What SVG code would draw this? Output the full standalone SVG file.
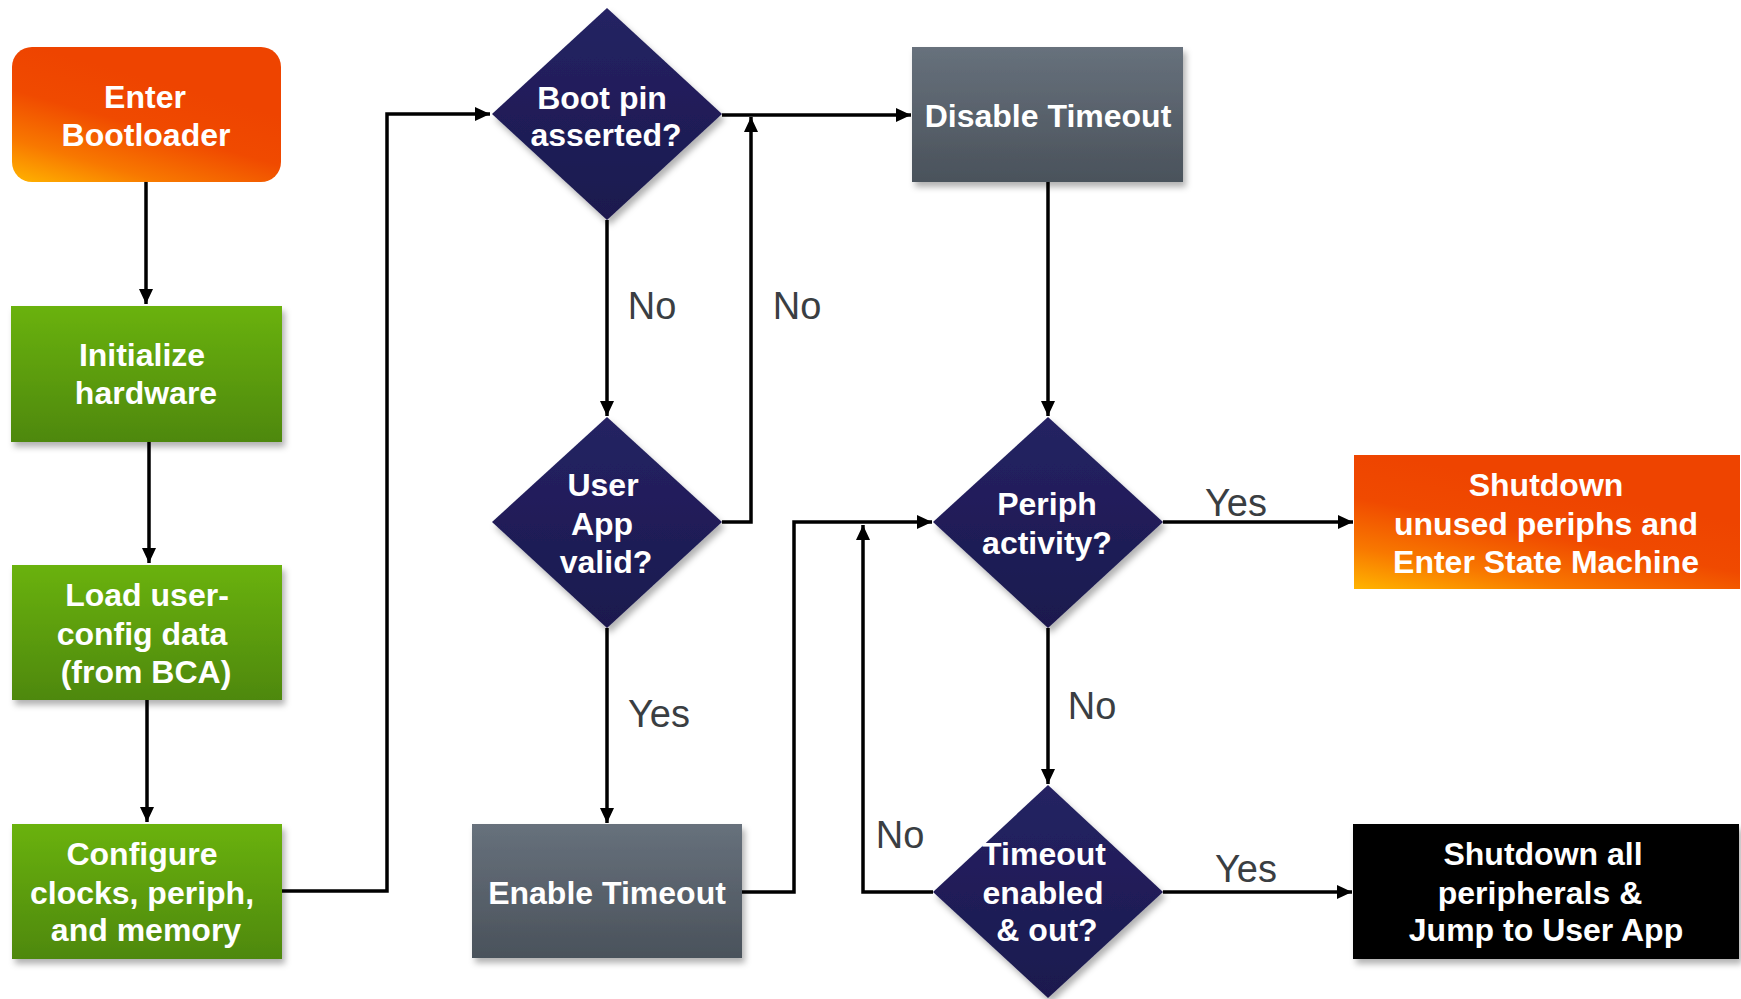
<svg xmlns="http://www.w3.org/2000/svg" width="1741" height="999" viewBox="0 0 1741 999">
<defs>
<style>
.t{font-family:"Liberation Sans",Arial,sans-serif;font-weight:bold;font-size:32px;fill:#fff;text-anchor:middle}
.l{font-family:"Liberation Sans",Arial,sans-serif;font-size:38px;fill:#3a3e42;text-anchor:middle}
.c{fill:none;stroke:#000;stroke-width:3.5}
</style>
<linearGradient id="gOr" x1="0" y1="1" x2="0.45" y2="0.2">
<stop offset="0" stop-color="#FFB400"/>
<stop offset="0.3" stop-color="#F87800"/>
<stop offset="0.65" stop-color="#F04A00"/>
<stop offset="1" stop-color="#EE4400"/>
</linearGradient>
<linearGradient id="gGr" x1="0" y1="0" x2="0" y2="1">
<stop offset="0" stop-color="#6AB20C"/>
<stop offset="1" stop-color="#4E8808"/>
</linearGradient>
<linearGradient id="gGy" x1="0" y1="0" x2="0" y2="1">
<stop offset="0" stop-color="#67717C"/>
<stop offset="1" stop-color="#4A525B"/>
</linearGradient>
<linearGradient id="gDm" x1="0" y1="0" x2="0" y2="1">
<stop offset="0" stop-color="#252263"/>
<stop offset="1" stop-color="#1B194E"/>
</linearGradient>
<filter id="sh" x="-10%" y="-10%" width="125%" height="130%">
<feDropShadow dx="3" dy="5" stdDeviation="3" flood-color="#000" flood-opacity="0.3"/>
</filter>
<marker id="ar" markerUnits="userSpaceOnUse" markerWidth="16" markerHeight="14" refX="15" refY="7" orient="auto">
<path d="M0,0 L15,7 L0,14 z" fill="#000"/>
</marker>
</defs>
<rect width="1741" height="999" fill="#fff"/>
<g id="connectors">
<path class="c" d="M146,182 V304" marker-end="url(#ar)"/>
<path class="c" d="M149,442 V563" marker-end="url(#ar)"/>
<path class="c" d="M147,700 V822" marker-end="url(#ar)"/>
<path class="c" d="M282,891 H387 V114 H490" marker-end="url(#ar)"/>
<path class="c" d="M722,115 H911" marker-end="url(#ar)"/>
<path class="c" d="M607,220 V416" marker-end="url(#ar)"/>
<path class="c" d="M722,522 H751 V117" marker-end="url(#ar)"/>
<path class="c" d="M607,628 V823" marker-end="url(#ar)"/>
<path class="c" d="M742,892 H794 V522 H932" marker-end="url(#ar)"/>
<path class="c" d="M1048,182 V416" marker-end="url(#ar)"/>
<path class="c" d="M1163,522 H1353" marker-end="url(#ar)"/>
<path class="c" d="M1048,628 V784" marker-end="url(#ar)"/>
<path class="c" d="M1163,892 H1352" marker-end="url(#ar)"/>
<path class="c" d="M933,892 H863 V525" marker-end="url(#ar)"/>
<text class="l" x="652" y="319">No</text>
<text class="l" x="797" y="319">No</text>
<text class="l" x="659" y="727">Yes</text>
<text class="l" x="1236" y="516">Yes</text>
<text class="l" x="1092" y="719">No</text>
<text class="l" x="900" y="848">No</text>
<text class="l" x="1246" y="882">Yes</text>
</g>
<g id="enter-bootloader">
<rect x="12" y="47" width="269" height="135" rx="20" fill="url(#gOr)"/>
<text class="t" x="145" y="108">Enter</text>
<text class="t" x="146" y="146">Bootloader</text>
</g>
<g id="init-hw">
<rect x="11" y="306" width="271" height="136" fill="url(#gGr)" filter="url(#sh)"/>
<text class="t" x="142" y="366">Initialize</text>
<text class="t" x="146" y="404">hardware</text>
</g>
<g id="load-config">
<rect x="12" y="565" width="270" height="135" fill="url(#gGr)" filter="url(#sh)"/>
<text class="t" x="147" y="606">Load user-</text>
<text class="t" x="142" y="645">config data</text>
<text class="t" x="146" y="683">(from BCA)</text>
</g>
<g id="configure">
<rect x="12" y="824" width="270" height="135" fill="url(#gGr)" filter="url(#sh)"/>
<text class="t" x="142" y="865">Configure</text>
<text class="t" x="142" y="904">clocks, periph,</text>
<text class="t" x="146" y="941">and memory</text>
</g>
<g id="boot-pin">
<polygon points="607,8 722,114 607,220 492,114" fill="url(#gDm)" filter="url(#sh)"/>
<text class="t" x="602" y="109">Boot pin</text>
<text class="t" x="606" y="146">asserted?</text>
</g>
<g id="user-app">
<polygon points="607,417 722,522 607,628 492,522" fill="url(#gDm)" filter="url(#sh)"/>
<text class="t" x="603" y="496">User</text>
<text class="t" x="602" y="535">App</text>
<text class="t" x="606" y="573">valid?</text>
</g>
<g id="enable-timeout">
<rect x="472" y="824" width="270" height="134" fill="url(#gGy)" filter="url(#sh)"/>
<text class="t" x="607" y="904">Enable Timeout</text>
</g>
<g id="disable-timeout">
<rect x="912" y="47" width="271" height="135" fill="url(#gGy)" filter="url(#sh)"/>
<text class="t" x="1048" y="127">Disable Timeout</text>
</g>
<g id="periph-activity">
<polygon points="1048,417 1163,522 1048,628 933,522" fill="url(#gDm)" filter="url(#sh)"/>
<text class="t" x="1047" y="515">Periph</text>
<text class="t" x="1047" y="554">activity?</text>
</g>
<g id="timeout-out">
<polygon points="1048,785 1163,892 1048,998 933,892" fill="url(#gDm)" filter="url(#sh)"/>
<text class="t" x="1044" y="865">Timeout</text>
<text class="t" x="1043" y="904">enabled</text>
<text class="t" x="1047" y="941">&amp; out?</text>
</g>
<g id="shutdown-unused">
<rect x="1354" y="455" width="386" height="134" fill="url(#gOr)"/>
<text class="t" x="1546" y="496">Shutdown</text>
<text class="t" x="1546" y="535">unused periphs and</text>
<text class="t" x="1546" y="573">Enter State Machine</text>
</g>
<g id="shutdown-all">
<rect x="1353" y="824" width="386" height="135" fill="#000" filter="url(#sh)"/>
<text class="t" x="1543" y="865">Shutdown all</text>
<text class="t" x="1540" y="904">peripherals &amp;</text>
<text class="t" x="1546" y="941">Jump to User App</text>
</g>
</svg>
